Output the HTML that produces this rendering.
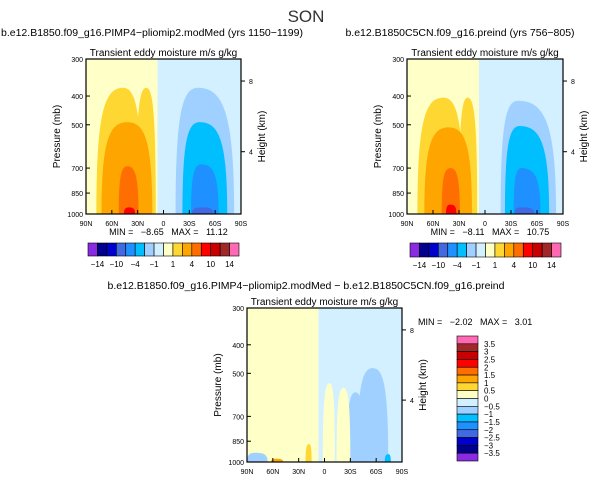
<!DOCTYPE html>
<html><head><meta charset="utf-8"><style>
body{margin:0;background:#fff;}
svg{display:block;font-family:"Liberation Sans",sans-serif;}
text{white-space:pre;}
</style></head><body>
<svg id="fig" width="611" height="481" xmlns="http://www.w3.org/2000/svg">
<text x="306" y="22" font-size="17" text-anchor="middle" fill="#333">SON</text>
</svg>
<script>
// ---- data ----
const palette = ["#8a2be2","#00008b","#0000cd","#4169e1","#1e90ff","#00bfff","#a0d0ff","#d2f0ff","#ffffc8","#ffd732","#ffa500","#ff6e00","#ff0000","#c80000","#a02828","#ff69b4"];
const fullLabels = ["-14","-10","-4","-1","1","4","10","14"];
const diffLabels = ["3.5","3","2.5","2","1.5","1","0.5","0","-0.5","-1","-1.5","-2","-2.5","-3","-3.5"];
const latTicks = [90,60,30,0,-30,-60,-90];
const latTickLabels = ["90N","60N","30N","0","30S","60S","90S"];
const pTicks = [300,400,500,700,850,1000];
const zTicks = [4,8];
// blobs: [latLeft, latRight, latPeak, pTop, colorIndex]
const blobsA = [[78,25,47,375,9],[32,9,20,375,9],[72,13,42,490,10],[52,29,42,690,11],[46,33,40,950,12],[-14,-82,-40,375,6],[-22,-74,-42,490,5],[-32,-64,-44,680,4],[-33,-58,-45,950,3]];
const blobsB = [[78,25,48,405,9],[30,9,20,405,9],[70,15,42,510,10],[50,29,40,700,11],[45,33,40,930,12],[-18,-82,-38,415,6],[-23,-74,-40,505,5],[-33,-64,-42,700,4],[-34,-57,-42,950,3]];
const blobsC = [[-38,-74,-56,480,6],[-26,-46,-36,580,6],[-14,-30,-22,560,8],[2,-12,-6,540,8],[30,12,20,800,8],[22,15,18,870,9],[90,66,80,930,6],[-70,-77,-74,940,5],[62,48,56,975,10]];
const diffMin = "-2.02", diffMax = "3.01";
// ---- drawing ----
const NS="http://www.w3.org/2000/svg";
const svg=document.getElementById('fig');
function el(t,a,p){const e=document.createElementNS(NS,t);for(const k in a)e.setAttribute(k,a[k]);(p||svg).appendChild(e);return e;}
function txt(x,y,s,size,anchor,p,rot){const e=el('text',{x:x,y:y,'font-size':size,'text-anchor':anchor||'middle',fill:'#000'},p);if(rot)e.setAttribute('transform',`rotate(-90 ${x} ${y})`);e.textContent=s.replace(/-/g,'\u2212');return e;}
function zToP(z){return 1013.25*Math.pow(1-2.25577e-5*z*1000,5.25588);}
function panel(name,x0,y0,w,h,divLat,blobs,title,minv,maxv,tx,hasMin){
  const g=el('g',{});
  
  
  const X=lat=>x0+(90-lat)/180*w;
  const Y=p=>y0+Math.log(p/300)/Math.log(1000/300)*h;
  const r1=el('rect',{x:x0,y:y0,width:X(divLat)-x0,height:h,fill:palette[8]},g);
  
  
  const r2=el('rect',{x:X(divLat),y:y0,width:x0+w-X(divLat),height:h,fill:palette[7]},g);
  
  
  blobs.forEach(b=>{
    const xl=X(b[0]),xr=X(b[1]),xc=X(b[2]),yb=Y(1000),yt=Y(b[3]);
    const d=`M${xl},${yb} C${xl},${yt+(yb-yt)*0.2} ${xc-(xc-xl)*0.7},${yt} ${xc},${yt} C${xc+(xr-xc)*0.7},${yt} ${xr},${yt+(yb-yt)*0.2} ${xr},${yb} Z`;
    const p=el('path',{d:d,fill:palette[b[4]]},g);
    
    
  });
  const fr=el('rect',{x:x0,y:y0,width:w,height:h,fill:'none',stroke:'#000','stroke-width':1.2},g);
  
  
  latTicks.forEach((l,i)=>{el('line',{x1:X(l),x2:X(l),y1:y0+h,y2:y0+h-4,stroke:'#000'},g);txt(X(l),y0+h+12,latTickLabels[i],7,'middle',g);});
  pTicks.forEach(p=>{el('line',{x1:x0,x2:x0+4,y1:Y(p),y2:Y(p),stroke:'#000'},g);txt(x0-3,Y(p)+3,String(p),7,'end',g);});
  zTicks.forEach(z=>{const p=zToP(z);el('line',{x1:x0+w,x2:x0+w+4,y1:Y(p),y2:Y(p),stroke:'#000'},g);txt(x0+w+8,Y(p)+3,String(z),7,'start',g);});
  txt(x0-26,y0+h/2,'Pressure (mb)',10,'middle',g,true);
  txt(x0+w/2,y0-3,'Transient eddy moisture m/s g/kg',10,'middle',g);
  txt(x0+w+24,y0+h/2,'Height (km)',10,'middle',g,true);
  if(title)txt(tx,36,title,10.5,'middle',g);
  if(hasMin)txt(x0+w/2+5,y0+h+21,'MIN =   '+minv+'   MAX =   '+maxv,9,'middle',g);
}
function hbar(name,x0,y0,w,h){
  const g=el('g',{});
  
  
  const bw=w/16;
  palette.forEach((c,i)=>{const r=el('rect',{x:x0+i*bw,y:y0,width:bw,height:h,fill:c,stroke:'#000','stroke-width':0.6},g);
    
    });
  fullLabels.forEach((s,i)=>{txt(x0+(2*i+1)*bw,y0+h+11,s,8,'middle',g);});
}
panel('panel-pliomip',86,59,155,155,7,blobsA,'b.e12.B1850.f09_g16.PIMP4-pliomip2.modMed (yrs 1150-1199)','-8.65','11.12',152,true);
panel('panel-preind',407,59,156,155,7,blobsB,'b.e12.B1850C5CN.f09_g16.preind (yrs 756-805)','-8.11','10.75',460,true);
hbar('colorbar-left',88,243,151,13);
hbar('colorbar-right',410,243,151,14);
panel('panel-difference',247,308,155,154,7,blobsC,null,'','',0,false);
txt(306,289,'b.e12.B1850.f09_g16.PIMP4-pliomip2.modMed - b.e12.B1850C5CN.f09_g16.preind',10.5,'middle');
const mm=txt(418,325,'MIN =   '+diffMin+'   MAX =   '+diffMax,9,'start');


const vg=el('g',{});


const bh=125/16;
palette.slice().reverse().forEach((c,i)=>{const r=el('rect',{x:457,y:336+i*bh,width:21,height:bh,fill:c,stroke:'#000','stroke-width':0.6},vg);
  
  });
diffLabels.forEach((s,i)=>{txt(484,336+(i+1)*bh+3,s,8,'start',vg);});
</script>
</body></html>
